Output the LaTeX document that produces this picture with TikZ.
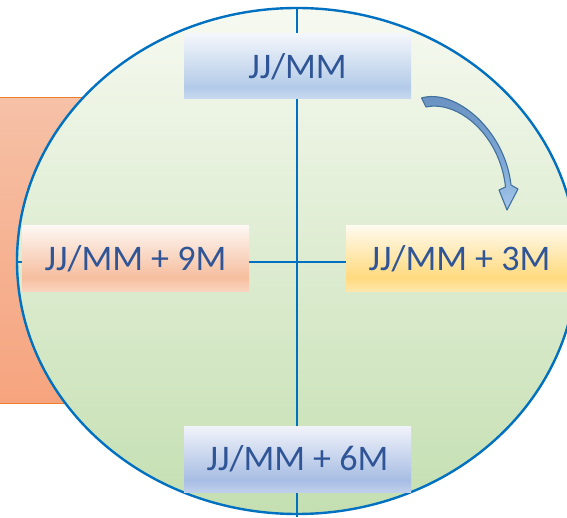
\documentclass[tikz,border=0pt]{standalone}
\usepackage{fontspec}
\setmainfont{Carlito}

\definecolor{axisblue}{HTML}{0070C0}
\definecolor{labelblue}{HTML}{2F5597}
\definecolor{tabedge}{HTML}{ED7D31}
\definecolor{arrowedge}{HTML}{41719C}

\definecolor{bluelo}{HTML}{C9DAEF}\definecolor{bluemid}{HTML}{B3CBE8}\definecolor{bluehi}{HTML}{F3F6FB}
\definecolor{peachlo}{HTML}{FAD6C2}\definecolor{peachmid}{HTML}{F6BE9E}\definecolor{peachhi}{HTML}{FDF7F3}
\definecolor{goldlo}{HTML}{FFE8AE}\definecolor{goldmid}{HTML}{FFDA7E}\definecolor{goldhi}{HTML}{FFFAEE}
\definecolor{slatelo}{HTML}{BFD0EB}\definecolor{slatemid}{HTML}{A7BDE3}\definecolor{slatehi}{HTML}{F1F3FA}
\definecolor{lawnlo}{HTML}{C4DFB1}\definecolor{lawnhi}{HTML}{F6F9F0}
\definecolor{tablo}{HTML}{F6A47E}\definecolor{tabhi}{HTML}{F6C1A7}
\definecolor{arrowlo}{HTML}{A4C6EA}\definecolor{arrowmid}{HTML}{7FA8D6}\definecolor{arrowhi}{HTML}{6790C0}

% vertical shadings: 25bp = bottom edge, 75bp = top edge of the shape
\pgfdeclareverticalshading{bluebox}{100bp}{%
  color(0bp)=(bluelo); color(25bp)=(bluelo);
  color(34bp)=(bluemid); color(75bp)=(bluehi); color(100bp)=(bluehi)}
\pgfdeclareverticalshading{peachbox}{100bp}{%
  color(0bp)=(peachlo); color(25bp)=(peachlo);
  color(36bp)=(peachmid); color(75bp)=(peachhi); color(100bp)=(peachhi)}
\pgfdeclareverticalshading{goldbox}{100bp}{%
  color(0bp)=(goldlo); color(25bp)=(goldlo);
  color(36bp)=(goldmid); color(75bp)=(goldhi); color(100bp)=(goldhi)}
\pgfdeclareverticalshading{slatebox}{100bp}{%
  color(0bp)=(slatelo); color(25bp)=(slatelo);
  color(34bp)=(slatemid); color(75bp)=(slatehi); color(100bp)=(slatehi)}
\pgfdeclareverticalshading{lawn}{100bp}{%
  color(0bp)=(lawnlo); color(25bp)=(lawnlo);
  color(75bp)=(lawnhi); color(100bp)=(lawnhi)}
\pgfdeclareverticalshading{tabshade}{100bp}{%
  color(0bp)=(tablo); color(25bp)=(tablo);
  color(75bp)=(tabhi); color(100bp)=(tabhi)}
\pgfdeclareverticalshading{arrowshade}{100bp}{%
  color(0bp)=(arrowlo); color(25bp)=(arrowlo);
  color(45bp)=(arrowmid); color(75bp)=(arrowhi); color(100bp)=(arrowhi)}

\tikzset{
  datebox/.style={minimum width=227pt, minimum height=66pt, inner sep=0pt,
    text=labelblue, font=\fontsize{36}{40}\selectfont},
  axisline/.style={draw=axisblue, line width=2pt},
}

\begin{document}
\begin{tikzpicture}[x=1pt, y=1pt]
  \useasboundingbox (0,0) rectangle (567,517);
  \clip (0,0) rectangle (567,517);

  % orange tab behind the disc
  \path[shading=tabshade] (-5,114) rectangle (250,419);
  \draw[tabedge, line width=1pt] (-5,419) -- (250,419) (-5,114) -- (250,114);

  % the disc
  \path[shading=lawn, draw=axisblue, line width=2.4pt]
    (297,256) ellipse [x radius=280pt, y radius=253pt];

  % axes
  \coordinate (vtop) at (297,508);
  \coordinate (vbot) at (297,0);
  \coordinate (hleft) at (17,255);
  \coordinate (hright) at (567,255);
  \draw[axisline] (vtop) -- (vbot);
  \draw[axisline] (hleft) -- (hright);

  % date labels
  \node[datebox, shading=bluebox, minimum height=65pt] (now) at (297.5,450.5) {JJ/MM};
  \node[datebox, shading=goldbox] (plus3) at (459.5,258) {JJ/MM + 3M};
  \node[datebox, shading=slatebox] (plus6) at (297.5,58) {JJ/MM + 6M};
  \node[datebox, shading=peachbox] (plus9) at (135.5,258) {JJ/MM + 9M};

  % curved arrow
  \path[shading=arrowshade, draw=arrowedge, line width=1.1pt, line join=round]
    (421.5,419) .. controls (455,429) and (505,387) .. (511,332)
    -- (518,328) -- (507,307) -- (499,327) -- (505.5,330)
    .. controls (500,382) and (458,417) .. (426,410) -- cycle;
\end{tikzpicture}
\end{document}
